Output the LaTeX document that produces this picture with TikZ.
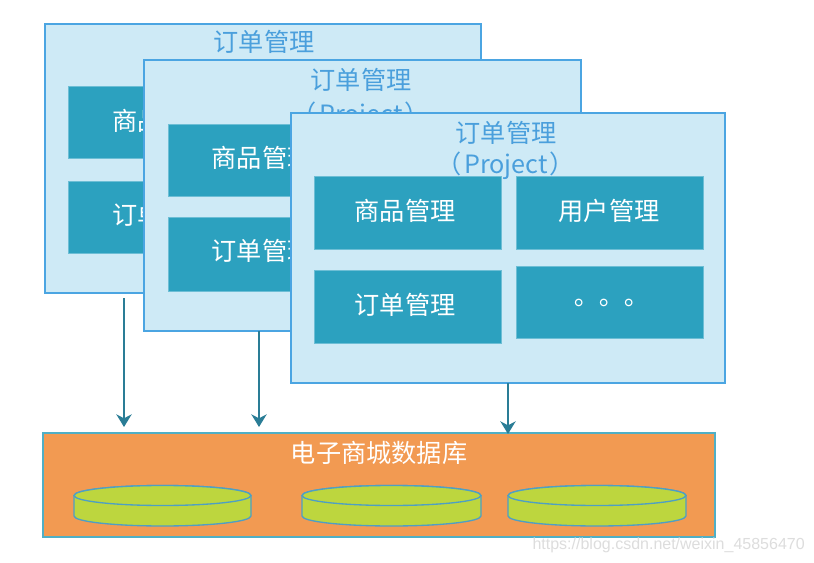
\documentclass[tikz,border=0pt]{standalone}
\usepackage{fontspec}
\setmainfont{Noto Sans CJK SC}
\newfontfamily\dotsfont{Noto Sans CJK TC}
\newfontfamily\wmfont{Liberation Sans}
\usetikzlibrary{arrows.meta}
\definecolor{panelfill}{HTML}{CEEAF6}
\definecolor{panelline}{HTML}{4BA5E2}
\definecolor{boxfill}{HTML}{2CA1BF}
\definecolor{dbfill}{HTML}{F29A52}
\definecolor{dbline}{HTML}{4FAFC6}
\definecolor{diskfill}{HTML}{BDD63E}
\definecolor{diskline}{HTML}{4E9FC4}
\definecolor{arrowcol}{HTML}{2A7D96}
\definecolor{titlecol}{HTML}{4A9FDC}
\definecolor{wmcol}{HTML}{DDDDDD}
\tikzset{
  x=0.75pt,y=-0.75pt,
  size/.style 2 args={minimum width=#1*0.75pt,minimum height=#2*0.75pt},
  base/.style={anchor=north west,inner sep=0pt,outer sep=0pt},
  panel/.style={base,draw=panelline,fill=panelfill,line width=1.1pt},
  box/.style={base,fill=boxfill,draw=boxfill!60!panelfill,line width=.3pt},
  boxtext/.style={text=white,font=\fontsize{18.9pt}{22pt}\selectfont,inner sep=0pt},
  title/.style={text=titlecol,font=\fontsize{18.9pt}{22pt}\selectfont,inner sep=0pt},
  db/.style={base,draw=dbline,fill=dbfill,line width=1pt},
  disk/.style={draw=diskline,fill=diskfill,line width=1pt},
  link/.style={draw=arrowcol,line width=1.3pt,-{Stealth[length=9.5pt,width=11.5pt,inset=3pt]}},
}
\begin{document}
\begin{tikzpicture}
\useasboundingbox[fill=white] (0,0) rectangle (814,563);

% panel 1
\node[panel,size={436}{269}] (p1) at (45,24) {};
\node[title] (p1t) at (264,42) {订单管理};
\node[box,size={187}{72}] (p1a) at (68,86) {};
\node[boxtext] (p1at) at (163,121) {商品管理};
\node[box,size={187}{72}] (p1b) at (68,181) {};
\node[boxtext] (p1bt) at (163,215) {订单管理};

% panel 2
\node[panel,size={437}{271}] (p2) at (144,60) {};
\node[title] (p2t) at (361,80) {订单管理};
\node[title] (p2u) at (361,116) {（\hspace{1.5pt}Project\hspace{1.5pt}）};
\node[box,size={187}{72}] (p2a) at (168,124) {};
\node[boxtext] (p2at) at (262,158) {商品管理};
\node[box,size={187}{74}] (p2b) at (168,217) {};
\node[boxtext] (p2bt) at (262,251) {订单管理};

% panel 3
\node[panel,size={434}{270}] (p3) at (291,113) {};
\node[title] (p3t) at (506,133) {订单管理};
\node[title] (p3u) at (506,166) {（\hspace{1.5pt}Project\hspace{1.5pt}）};
\node[box,size={187}{73}] (p3a) at (314,176) {};
\node[boxtext] (p3at) at (405,211) {商品管理};
\node[box,size={187}{73}] (p3b) at (516,176) {};
\node[boxtext] (p3bt) at (609,211) {用户管理};
\node[box,size={187}{73}] (p3c) at (314,270) {};
\node[boxtext] (p3ct) at (405,305) {订单管理};
\node[box,size={187}{72}] (p3d) at (516,266) {};
\node[boxtext,font=\dotsfont\fontsize{18.9pt}{22pt}\selectfont] (p3dt) at (604,306) {。。。};

% database
\node[db,size={672}{104}] (d) at (43,433) {};
\node[boxtext] (dt) at (379,453) {电子商城数据库};

% disks
\foreach \n/\l/\r in {1/74/251,2/302/481,3/508/686}{
  \path[disk] (\l,495.5) -- (\l,516)
     arc[start angle=180,end angle=360,x radius={(\r-\l)*0.75pt/2},y radius=7.5pt]
     -- (\r,495.5)
     arc[start angle=0,end angle=180,x radius={(\r-\l)*0.75pt/2},y radius=7.5pt] -- cycle;
  \path[disk] ({(\l+\r)/2},495.5) ellipse[x radius={(\r-\l)*0.75pt/2},y radius=7.5pt];
}

% connectors
\coordinate (a1s) at (124,298);
\coordinate (a1e) at (124,427);
\coordinate (a2e) at (259,427);
\coordinate (a3e) at (508,434);
\draw[link] (a1s) -- (a1e);
\draw[link] (a2e |- p2.south) -- (a2e);
\draw[link] (a3e |- p3.south) -- (a3e);

% watermark
\node[text=wmcol,font=\wmfont\fontsize{12pt}{14pt}\selectfont,inner sep=0pt,anchor=east] (wm) at (805,545) {https://blog.csdn.net/weixin\_45856470};
\end{tikzpicture}
\end{document}
